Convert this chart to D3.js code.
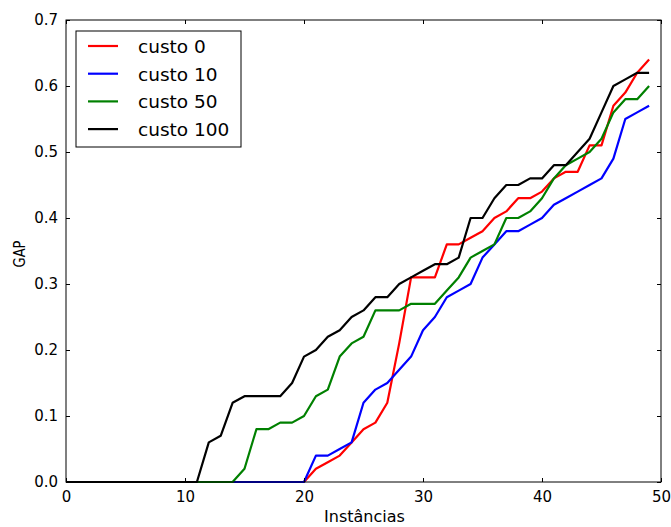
<!DOCTYPE html>
<html>
<head>
<meta charset="utf-8">
<script src="https://cdn.jsdelivr.net/npm/d3@7"></script>
<style>
  body { margin: 0; background: #fff; }
  svg text { font-family: "DejaVu Sans", sans-serif; }
</style>
</head>
<body>
<svg id="chart" width="671" height="527"></svg>
<script>
// instance index 0..49
const instancias = d3.range(50);

const custo0 = [0,0,0,0,0,0,0,0,0,0, 0,0,0,0,0,0,0,0,0,0,
  0,0.02,0.03,0.04,0.06,0.08,0.09,0.12,0.21,0.31,
  0.31,0.31,0.36,0.36,0.37,0.38,0.40,0.41,0.43,0.43,
  0.44,0.46,0.47,0.47,0.51,0.51,0.57,0.59,0.62,0.64];

const custo10 = [0,0,0,0,0,0,0,0,0,0, 0,0,0,0,0,0,0,0,0,0,
  0,0.04,0.04,0.05,0.06,0.12,0.14,0.15,0.17,0.19,
  0.23,0.25,0.28,0.29,0.30,0.34,0.36,0.38,0.38,0.39,
  0.40,0.42,0.43,0.44,0.45,0.46,0.49,0.55,0.56,0.57];

const custo50 = [0,0,0,0,0,0,0,0,0,0, 0,0,0,0,0,0.02,0.08,0.08,0.09,0.09,
  0.10,0.13,0.14,0.19,0.21,0.22,0.26,0.26,0.26,0.27,
  0.27,0.27,0.29,0.31,0.34,0.35,0.36,0.40,0.40,0.41,
  0.43,0.46,0.48,0.49,0.50,0.52,0.56,0.58,0.58,0.60];

const custo100 = [0,0,0,0,0,0,0,0,0,0, 0,0,0.06,0.07,0.12,0.13,0.13,0.13,0.13,0.15,
  0.19,0.20,0.22,0.23,0.25,0.26,0.28,0.28,0.30,0.31,
  0.32,0.33,0.33,0.34,0.40,0.40,0.43,0.45,0.45,0.46,
  0.46,0.48,0.48,0.50,0.52,0.56,0.60,0.61,0.62,0.62];

const seriesNames = ["custo 0", "custo 10", "custo 50", "custo 100"];
const seriesColors = ["#ff0000", "#0000ff", "#008000", "#000000"];
const xTicks = [0, 10, 20, 30, 40, 50];
const yTicks = [0, 0.1, 0.2, 0.3, 0.4, 0.5, 0.6, 0.7];

const series = [custo0, custo10, custo50, custo100];

const margin = { top: 20, right: 10, bottom: 45, left: 66 };
const width = 671, height = 527;

const svg = d3.select("#chart");

const x = d3.scaleLinear().domain([0, 50]).range([margin.left, width - margin.right]);
const y = d3.scaleLinear().domain([0, 0.7]).range([height - margin.bottom, margin.top]);

// lines
const line = d3.line().x((d, i) => x(instancias[i])).y(d => y(d));

svg.append("g")
  .selectAll("path")
  .data(series)
  .join("path")
  .attr("fill", "none")
  .attr("stroke", (d, i) => seriesColors[i])
  .attr("stroke-width", 2.2)
  .attr("stroke-linejoin", "round")
  .attr("d", line);

// axes with inward ticks on all four sides
const tickFont = 15;
svg.append("g")
  .attr("transform", "translate(0," + y(0) + ")")
  .call(d3.axisBottom(x).tickValues(xTicks).tickFormat(d3.format("d")).tickSize(-4).tickPadding(9).tickSizeOuter(0))
  .call(g => g.select(".domain").remove())
  .call(g => g.selectAll("text").attr("font-size", tickFont).attr("font-family", "DejaVu Sans").attr("fill", "#000"));

svg.append("g")
  .attr("transform", "translate(0," + y(0.7) + ")")
  .call(d3.axisTop(x).tickValues(xTicks).tickFormat("").tickSize(-4).tickSizeOuter(0))
  .call(g => g.select(".domain").remove());

svg.append("g")
  .attr("transform", "translate(" + x(0) + ",0)")
  .call(d3.axisLeft(y).tickValues(yTicks).tickFormat(d3.format(".1f")).tickSize(-4).tickPadding(8).tickSizeOuter(0))
  .call(g => g.select(".domain").remove())
  .call(g => g.selectAll("text").attr("font-size", tickFont).attr("font-family", "DejaVu Sans").attr("fill", "#000"));

svg.append("g")
  .attr("transform", "translate(" + x(50) + ",0)")
  .call(d3.axisRight(y).tickValues(yTicks).tickFormat("").tickSize(-4).tickSizeOuter(0))
  .call(g => g.select(".domain").remove());

// frame
svg.append("rect")
  .attr("x", x(0)).attr("y", y(0.7))
  .attr("width", x(50) - x(0)).attr("height", y(0) - y(0.7))
  .attr("fill", "none").attr("stroke", "#000").attr("stroke-width", 1);

// axis labels
svg.append("text")
  .attr("x", (x(0) + x(50)) / 2 + 1).attr("y", 522)
  .attr("text-anchor", "middle").attr("font-size", 16)
  .text("Instâncias");

svg.append("text")
  .attr("transform", "translate(25,254) rotate(-90) scale(1,1.2)")
  .attr("text-anchor", "middle").attr("font-size", 13)
  .text("GAP");

// legend
const legend = svg.append("g").attr("transform", "translate(76,31)");
legend.append("rect")
  .attr("width", 165).attr("height", 116)
  .attr("fill", "#fff").attr("stroke", "#000").attr("stroke-width", 1);

const items = legend.selectAll("g.item")
  .data(seriesNames)
  .join("g")
  .attr("class", "item")
  .attr("transform", (d, i) => "translate(0," + (15 + i * 27.7) + ")");

items.append("line")
  .attr("x1", 12).attr("x2", 42)
  .attr("stroke", (d, i) => seriesColors[i])
  .attr("stroke-width", 2.2);

items.append("text")
  .attr("x", 62).attr("y", 7)
  .attr("font-size", 18.5)
  .text(d => d);
</script>
</body>
</html>
